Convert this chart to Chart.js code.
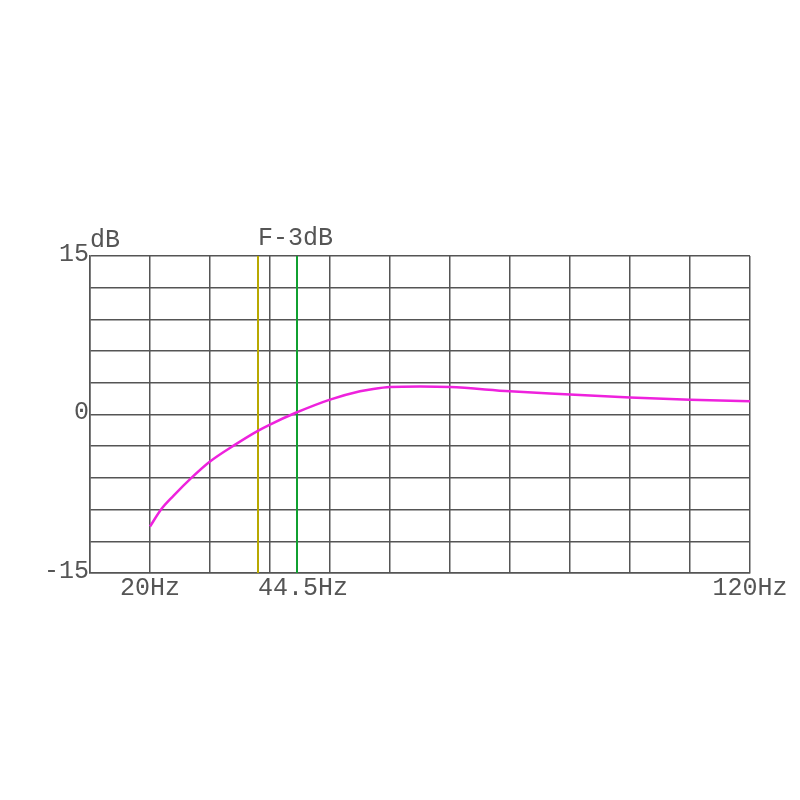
<!DOCTYPE html>
<html>
<head>
<meta charset="utf-8">
<script src="https://cdn.jsdelivr.net/npm/chart.js@4.4.0/dist/chart.umd.min.js"></script>
<style>
    html, body { margin: 0; padding: 0; background: #fff; }
    #wrap { width: 800px; height: 800px; }
</style>
</head>
<body>
<div id="wrap"><canvas id="chart" width="800" height="800"></canvas></div>
<script>
// 頻率響應曲線 (Hz, dB)
const freqs = [20, 21.9, 23.9, 26.9, 30, 34.2, 37.9, 40, 44.2, 50, 55, 57.2, 60, 65, 70, 80, 90, 100, 110, 120];
const gains = [-10.6, -8.95, -7.7, -6.0, -4.45, -2.85, -1.57, -0.95, 0.14, 1.41, 2.2, 2.42, 2.6, 2.65, 2.6, 2.2, 1.9, 1.6, 1.4, 1.25];

// 標記線
const markerYellow = 38;
const markerGreen = 44.5;

// 軸範圍
const xMin = 10, xMax = 120, xStep = 10;
const yMin = -15, yMax = 15, yStep = 3;

// 刻度文字
const xLabels = [{ v: 20, t: '20Hz' }, { v: 120, t: '120Hz' }];
const yLabels = [{ v: 15, t: '15' }, { v: 0, t: '0' }, { v: -15, t: '-15' }];

const FONT = '25px "Liberation Mono", "Courier New", monospace';
const TEXT_COLOR = '#555';

const labelPlugin = {
    id: 'labels',
    afterDraw(chart) {
        const ctx = chart.ctx;
        const xs = chart.scales.x;
        const ys = chart.scales.y;
        ctx.save();
        ctx.font = FONT;
        ctx.fillStyle = TEXT_COLOR;
        ctx.textBaseline = 'middle';

        // y 軸文字
        ctx.textAlign = 'right';
        yLabels.forEach(l => {
            ctx.fillText(l.t, xs.left - 1, ys.getPixelForValue(l.v) - 2);
        });
        ctx.textAlign = 'left';
        ctx.fillText('dB', xs.left, ys.top - 16);

        // x 軸文字
        const yText = ys.bottom + 15;
        ctx.textAlign = 'center';
        xLabels.forEach(l => {
            ctx.fillText(l.t, xs.getPixelForValue(l.v), yText);
        });
        ctx.textAlign = 'left';
        const xm = xs.getPixelForValue(markerYellow);
        ctx.fillText(markerGreen + 'Hz', xm, yText);
        ctx.fillText('F-3dB', xm, ys.top - 18);
        ctx.restore();
    }
};

new Chart(document.getElementById('chart'), {
    type: 'line',
    data: {
        datasets: [
            {
                data: freqs.map((f, i) => ({ x: f, y: gains[i] })),
                borderColor: '#ee22dd',
                borderWidth: 2.5,
                pointRadius: 0,
                cubicInterpolationMode: 'monotone'
            },
            {
                data: [{ x: markerYellow, y: yMin }, { x: markerYellow, y: yMax }],
                borderColor: '#b8a800',
                borderWidth: 2,
                pointRadius: 0
            },
            {
                data: [{ x: markerGreen, y: yMin }, { x: markerGreen, y: yMax }],
                borderColor: '#10a030',
                borderWidth: 2,
                pointRadius: 0
            }
        ]
    },
    options: {
        responsive: false,
        animation: false,
        layout: { padding: { left: 90, right: 50, top: 256, bottom: 227 } },
        plugins: { legend: { display: false }, tooltip: { enabled: false } },
        scales: {
            x: {
                type: 'linear',
                min: xMin,
                max: xMax,
                ticks: { stepSize: xStep, display: false },
                grid: { color: '#555', lineWidth: 1.5, drawTicks: false },
                border: { color: '#555', width: 1.5 }
            },
            y: {
                type: 'linear',
                min: yMin,
                max: yMax,
                ticks: { stepSize: yStep, display: false },
                grid: { color: '#555', lineWidth: 1.5, drawTicks: false },
                border: { color: '#555', width: 1.5 }
            }
        }
    },
    plugins: [labelPlugin]
});
</script>
</body>
</html>
